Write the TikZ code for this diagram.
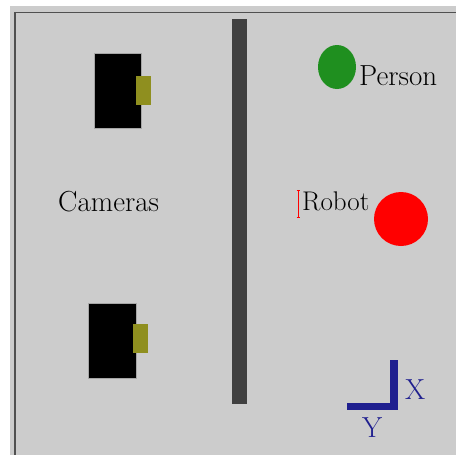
\documentclass[tikz,border=0pt]{standalone}
\begin{document}
\begin{tikzpicture}[x=1pt,y=-1pt,
  lbl/.style={font=\fontsize{29}{29}\selectfont, inner sep=0pt, anchor=base west},
  cam/.style={fill=black, draw=gray!70, line width=0.5pt},
  lens/.style={fill=lensc, draw=none},
  axis/.style={fill=navyblue, draw=none}]
\definecolor{bg}{HTML}{CCCCCC}
\definecolor{wall}{HTML}{404040}
\definecolor{frame}{HTML}{505050}
\definecolor{navyblue}{HTML}{1F1F8F}
\definecolor{persong}{HTML}{1F8F1F}
\definecolor{lensc}{HTML}{8F8F1F}
\useasboundingbox (0,0) rectangle (458,455);
\fill[white] (0,0) rectangle (458,455);
\fill[bg] (10,6) rectangle (456,455);
\draw[frame, line width=1.5pt] (15,455) -- (15,12.5) -- (456,12.5);
% wall
\fill[wall] (232,19) rectangle (247,404);
% cameras
\draw[cam] (94,53) rectangle (141,128);
\fill[lens] (136,76) rectangle (151,105);
\draw[cam] (88,303) rectangle (136,378);
\fill[lens] (133,324) rectangle (148,353);
\node[lbl] (cameras) at (58,211) {Cameras};
% person
\fill[persong] (337,67) ellipse [x radius=19, y radius=22];
\node[lbl] (person) at (359,85) {Person};
% robot
\fill[red] (401,219) circle [radius=27];
\node[lbl, font=\fontsize{27}{27}\selectfont] (robot) at (302,210) {Robot};
\draw[red, line width=0.6pt] (298,190) -- (298,217) (296.5,190) -- (299.5,190) (296.5,217) -- (299.5,217);
% axes
\fill[navyblue] (390,360) rectangle (398,410);
\fill[navyblue] (347,403) rectangle (398,410);
\node[lbl, text=navyblue] (xl) at (405,399) {X};
\node[lbl, text=navyblue] (yl) at (362,437) {Y};
\end{tikzpicture}
\end{document}
